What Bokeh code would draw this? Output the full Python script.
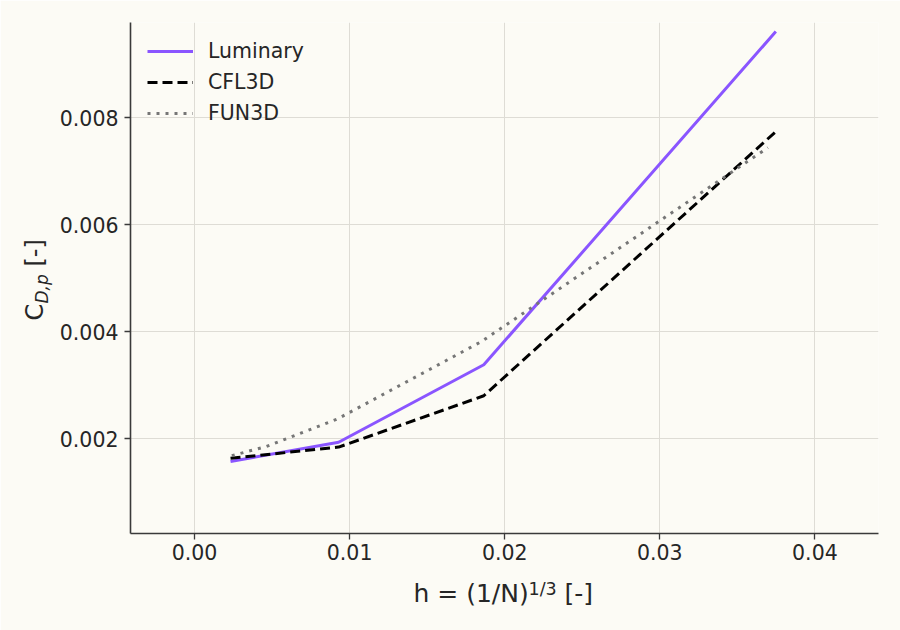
####################################################
#                                                  #
#                     Imports                      #
#                                                  #
####################################################

import math
from bokeh.plotting import figure
from bokeh.models import ColumnDataSource, Range1d, FixedTicker, PrintfTickFormatter, Label
from bokeh.embed import file_html
from bokeh.resources import INLINE

####################################################
#                                                  #
#                       Data                       #
#                                                  #
####################################################

h_luminary = [0.00232, 0.00929, 0.01865, 0.03748]
cd_luminary = [0.00157, 0.00193, 0.00338, 0.00961]

h_cfl3d = [0.00232, 0.00929, 0.01865, 0.03748]
cd_cfl3d = [0.00163, 0.00184, 0.00280, 0.00774]

h_fun3d = [0.00240, 0.00462, 0.00924, 0.01848, 0.03697]
cd_fun3d = [0.00168, 0.00185, 0.00237, 0.00381, 0.00744]

x_ticks = [0.00, 0.01, 0.02, 0.03, 0.04]
y_ticks = [0.002, 0.004, 0.006, 0.008]

x_lim = (-0.00413, 0.0441)
y_lim = (0.000224, 0.00978)

BG = "#FCFBF5"
FONT = "DejaVu Sans"
TEXT = "#262626"


####################################################
#                                                  #
#                  Helper Methods                  #
#                                                  #
####################################################

def get_figure():
    p = figure(
        width=900, height=630,
        x_range=Range1d(*x_lim),
        y_range=Range1d(*y_lim),
        output_backend="svg", toolbar_location=None,
        min_border_left=130, min_border_right=22,
        min_border_top=22, min_border_bottom=97,
        background_fill_color=BG, border_fill_color=BG,
    )
    p.outline_line_color = None
    return p


def configure_axes(p):
    p.xaxis.ticker = FixedTicker(ticks=x_ticks)
    p.yaxis.ticker = FixedTicker(ticks=y_ticks)
    p.xaxis.formatter = PrintfTickFormatter(format="%.2f")
    p.yaxis.formatter = PrintfTickFormatter(format="%.3f")
    p.axis.axis_line_color = "#3a3a3a"
    p.axis.axis_line_width = 1.6
    p.axis.major_tick_line_color = "#3a3a3a"
    p.axis.major_tick_line_width = 1.3
    p.axis.major_tick_out = 6
    p.axis.major_tick_in = 0
    p.axis.minor_tick_line_color = None
    p.axis.major_label_text_font = FONT
    p.axis.major_label_text_font_size = "20.5px"
    p.axis.major_label_text_color = TEXT
    p.xaxis.major_label_standoff = 4
    p.yaxis.major_label_standoff = 6
    p.grid.grid_line_color = "#DEDCD5"
    p.grid.grid_line_width = 1


# label pinned to the frame's bottom-left corner, shifted in pixels.
# it lives in a side panel, because labels in the centre get clipped
def corner_label(p, side, dx, dy, text, size, **kw):
    p.add_layout(Label(x=x_lim[0], y=y_lim[0], x_offset=dx, y_offset=dy, text=text,
                       text_font=FONT, text_font_size=size, text_color=TEXT,
                       text_baseline="middle", text_align="left", **kw), side)


def add_axis_labels(p):
    # h = (1/N)^(1/3) [-]
    corner_label(p, "below", 283, -60, "h = (1/N)", "25px")
    corner_label(p, "above", 398, -55, "1/3", "17.5px")
    corner_label(p, "below", 434, -60, "[-]", "25px")
    # C_{D,p} [-]
    up = math.pi / 2
    corner_label(p, "left", -96, 213, "C", "24px", angle=up)
    corner_label(p, "right", -89, 230, "D,p", "17px", angle=up, text_font_style="italic")
    corner_label(p, "left", -96, 267, "[-]", "24px", angle=up)


def configure_legend(p):
    p.legend.location = "top_left"
    p.legend.margin = 10
    p.legend.padding = 7
    p.legend.spacing = 7
    p.legend.glyph_width = 46
    p.legend.glyph_height = 22
    p.legend.label_height = 22
    p.legend.label_standoff = 15
    p.legend.label_text_font = FONT
    p.legend.label_text_font_size = "20.5px"
    p.legend.label_text_color = TEXT
    p.legend.background_fill_alpha = 0
    p.legend.border_line_alpha = 0


def generate_plot():
    p = get_figure()
    configure_axes(p)

    p.line(source=ColumnDataSource(dict(x=h_luminary, y=cd_luminary)), x="x", y="y",
           line_color="#8A55FF", line_width=3, legend_label="Luminary")
    p.line(source=ColumnDataSource(dict(x=h_cfl3d, y=cd_cfl3d)), x="x", y="y",
           line_color="black", line_width=3, line_dash="10 5", legend_label="CFL3D")
    p.line(source=ColumnDataSource(dict(x=h_fun3d, y=cd_fun3d)), x="x", y="y",
           line_color="#767676", line_width=3, line_dash="3 6", legend_label="FUN3D")

    configure_legend(p)
    add_axis_labels(p)
    return p


####################################################
#                                                  #
#                   Execution                      #
#                                                  #
####################################################

plot = generate_plot()
open("out.html", "w").write(file_html(plot, INLINE))
